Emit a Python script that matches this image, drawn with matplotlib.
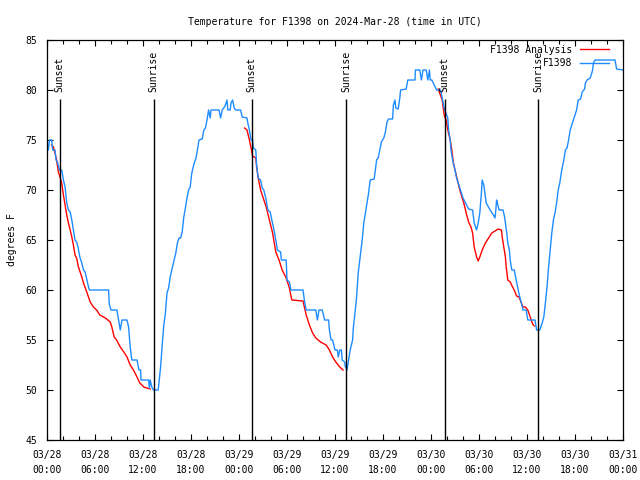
import matplotlib
matplotlib.use('Agg')
import matplotlib.pyplot as plt
import matplotlib.dates as mdates
import pandas as pd

# hours after 2024-03-28 00:00 UTC
start = pd.Timestamp('2024-03-28 00:00')

obs_hours = [0.0, 0.17, 0.3, 0.58, 0.71, 1.0, 1.13, 1.3, 1.55, 1.84, 2.05, 2.26, 2.47, 2.68, 2.9,
             3.1, 3.3, 3.5, 3.7, 3.9, 4.1, 4.35, 4.56, 4.77, 4.97, 5.19, 5.31, 7.7, 7.78, 7.99,
             8.74, 8.95, 9.16, 9.37, 10.0, 10.2, 10.4, 10.6, 11.25, 11.5, 11.7, 11.75, 12.7, 12.8,
             12.9, 13.1, 13.3, 13.9, 14.2, 14.4, 14.6, 14.8, 15.0, 15.2, 15.4, 15.6, 15.8, 16.1,
             16.3, 16.5, 16.7, 16.9, 17.1, 17.3, 17.5, 17.7, 17.9, 18.1, 18.4, 18.6, 18.8, 19.0,
             19.4, 19.6, 19.8, 20.0, 20.2, 20.4, 20.5, 21.5, 21.7, 21.9, 22.1, 22.3, 22.5, 22.6,
             22.9, 23.0, 23.2, 23.4, 23.6, 24.2, 24.4, 25.0, 25.1, 25.3, 25.5, 25.7, 25.8, 26.1,
             26.2, 26.4, 26.7, 26.9, 27.1, 27.4, 27.6, 27.9, 28.1, 28.3, 28.6, 28.8, 29.2, 29.3,
             29.9, 30.0, 30.3, 30.5, 32.0, 32.2, 32.4, 33.6, 33.8, 34.0, 34.4, 34.7, 35.2, 35.3,
             35.5, 35.7, 36.0, 36.3, 36.4, 36.6, 36.8, 36.9, 37.2, 37.3, 37.5, 37.7, 37.9, 38.2,
             38.3, 38.5, 38.7, 38.9, 39.2, 39.4, 39.6, 39.8, 40.0, 40.2, 40.4, 40.9, 41.2, 41.4,
             41.6, 41.8, 42.1, 42.3, 42.5, 42.7, 43.2, 43.3, 43.5, 43.6, 43.9, 44.1, 44.2, 44.9,
             45.1, 46.0, 46.05, 46.6, 46.8, 47.0, 47.4, 47.6, 47.8, 47.9, 48.1, 48.7, 49.2, 49.4,
             49.7, 50.1, 50.2, 50.4, 50.5, 50.7, 51.0, 51.2, 51.6, 52.0, 52.7, 53.2, 53.4, 53.7,
             53.9, 54.1, 54.3, 54.4, 54.6, 54.8, 54.9, 55.4, 55.8, 56.0, 56.1, 56.2, 56.3, 56.5,
             57.0, 57.2, 57.3, 57.5, 57.6, 57.8, 57.9, 58.1, 58.4, 58.7, 58.9, 59.1, 59.3, 59.5,
             59.9, 60.1, 61.0, 61.2, 61.6, 61.9, 62.1, 62.3, 62.5, 62.7, 62.9, 63.1, 63.3, 63.5,
             63.7, 63.9, 64.1, 64.3, 64.6, 64.8, 65.0, 65.2, 65.4, 65.8, 66.2, 66.4, 66.7, 66.9,
             67.2, 67.3, 67.5, 67.9, 68.1, 68.2, 68.3, 68.5, 71.0, 71.2, 72.0]
obs_temps = [75, 74, 75, 75, 74, 74, 73, 72.8, 72, 72, 71, 70.3, 68.7, 68, 67.8,
             67, 66, 65, 64.8, 64.2, 63.3, 62.7, 62, 61.8, 61.1, 60.3, 60, 60, 58.6, 58,
             58, 57, 56, 57, 57, 56.3, 54.3, 53, 53, 52, 52, 51, 51, 50.2,
             51, 50.3, 50, 50, 52.3, 54.5, 56.5, 57.7, 59.7, 60.2, 61.3, 62, 62.7, 63.7,
             64.7, 65.2, 65.2, 65.8, 67.3, 68.2, 69.2, 70, 70.3, 71.7, 72.7, 73.1, 74, 75,
             75.1, 76, 76.2, 77, 78, 77.2, 78, 78, 77.2, 78, 78.2, 78.5, 79, 78,
             78, 78.7, 79, 78.2, 78, 78, 77.3, 77.2, 76.7, 76, 75, 75, 74.2, 74,
             72.5, 71.2, 71, 70.2, 70, 69, 68, 67.8, 67, 66.3, 65, 64, 63.8, 63,
             63, 61, 60.8, 60, 60, 58.8, 58, 58, 57, 58, 58, 57, 57, 56,
             55, 55, 54, 54, 53.3, 54, 54, 53, 52.8, 52.3, 52, 53, 54, 55,
             56.3, 57.7, 59.3, 61.7, 63.7, 65, 66.7, 67.7, 68.7, 69.7, 71, 71.1, 73, 73.2,
             74, 74.8, 75.2, 75.8, 76.8, 77.1, 77.1, 78.5, 79, 78.2, 78.1, 79.2, 80, 80.1,
             81, 81, 82, 82, 81, 82, 82, 81, 82, 81, 81, 80, 80, 79.2,
             78, 77.2, 76, 75, 74, 73, 72, 71.2, 70.2, 69.2, 68.1, 68, 66.7, 66,
             66.7, 67.7, 69.7, 71, 70.5, 69.3, 68.7, 68, 67.5, 67.2, 68, 69, 68.7, 68,
             68, 67.3, 66.7, 65.5, 64.7, 64, 63, 62, 62, 60.8, 60, 59.3, 58.7, 58,
             58, 57, 57, 56, 56, 56.7, 57.3, 58.7, 60.3, 62.3, 64, 65.7, 67, 67.7,
             68.7, 70, 70.7, 71.8, 73, 74, 74.2, 75, 76, 77, 78, 79, 79.1, 79.8,
             80.1, 80.7, 81, 81.2, 81.7, 82, 82.7, 83, 83, 82.1, 82]

# analysis curve, one piece per night
ana_hours_1 = [0.58, 0.8, 1.0, 1.2, 1.42, 1.63, 1.84, 2.05, 2.26, 2.47, 2.68, 2.9, 3.1, 3.3, 3.5,
               3.7, 3.93, 4.14, 4.35, 4.56, 4.97, 5.4, 5.8, 6.2, 6.6, 7.3, 7.9, 8.1, 8.4, 8.7,
               9.16, 9.6, 10.0, 10.4, 10.8, 11.25, 11.6, 12.1, 12.5, 12.9]
ana_temps_1 = [74.5, 74.3, 73.7, 73, 71.8, 71.3, 70.7, 69.5, 68.5, 67.5, 66.7, 66, 65.3, 64.5, 63.5,
               63.2, 62.3, 61.8, 61.3, 60.7, 59.8, 58.8, 58.3, 58, 57.5, 57.2, 56.8, 56.3, 55.3, 55,
               54.3, 53.8, 53.3, 52.5, 52, 51.3, 50.7, 50.3, 50.2, 50.1]
ana_hours_2 = [24.7, 25.0, 25.3, 25.5, 25.7, 26.1, 26.2, 26.4, 26.7, 26.9, 27.4, 27.8, 28.2, 28.6,
               29.0, 29.4, 29.9, 30.3, 30.6, 32.0, 32.4, 32.8, 33.2, 33.6, 34.2, 34.9, 35.3, 35.7,
               36.1, 36.6, 37.0]
ana_temps_2 = [76.2, 76, 75, 74.2, 73.4, 73.2, 72.3, 71.2, 70, 69.5, 68.3, 67, 65.7, 63.8,
               63, 62, 61.2, 60.2, 59, 58.9, 57.5, 56.5, 55.7, 55.2, 54.8, 54.5, 54, 53.3,
               52.8, 52.3, 52]
ana_hours_3 = [48.9, 49.4, 49.6, 49.7, 49.9, 50.1, 50.4, 50.6, 50.8, 51.0, 51.3, 51.6, 51.9, 52.1,
               52.4, 52.7, 53.0, 53.2, 53.4, 53.7, 53.9, 54.1, 54.4, 54.8, 55.2, 55.6, 56.0, 56.4,
               56.8, 56.9, 57.1, 57.3, 57.4, 57.6, 57.9, 58.2, 58.4, 58.7, 59.0, 59.3, 59.5, 59.8,
               60.1, 60.4, 60.7, 60.9]
ana_temps_3 = [80.1, 79, 77.8, 77.3, 77, 76, 75, 74, 72.7, 72, 71, 70, 69.2, 68.7,
               67.7, 66.8, 66.3, 65.7, 64.3, 63.3, 62.9, 63.3, 64, 64.7, 65.2, 65.7, 65.9, 66.1,
               66, 65.3, 64.3, 63.3, 62.3, 61, 60.8, 60.3, 60, 59.4, 59.3, 58.7, 58.3, 58.3,
               58, 57.3, 56.6, 56.4]

sun_times = ['2024-03-28 01:36', '2024-03-28 13:21', '2024-03-29 01:36',
             '2024-03-29 13:24', '2024-03-30 01:42', '2024-03-30 13:24']
sun_labels = ['Sunset', 'Sunrise', 'Sunset', 'Sunrise', 'Sunset', 'Sunrise']


def to_time(hours):
    return start + pd.to_timedelta(hours, unit='h')


plt.rcParams['font.family'] = ['DejaVu Sans Mono']
fs = 7

fig = plt.figure(figsize=(6.4, 4.8), dpi=100)
ax = fig.add_axes([47 / 640, 40 / 480, 576 / 640, 400 / 480])

red = '#ff0000'
blue = '#1e8cff'
ax.plot(to_time(ana_hours_1), ana_temps_1, color=red, lw=1.0, label='F1398 Analysis')
ax.plot(to_time(ana_hours_2), ana_temps_2, color=red, lw=1.0)
ax.plot(to_time(ana_hours_3), ana_temps_3, color=red, lw=1.0)
ax.plot(to_time(obs_hours), obs_temps, color=blue, lw=1.0, label='F1398')

# sunrise / sunset markers
for t, lab in zip(pd.to_datetime(sun_times), sun_labels):
    ax.vlines(t, 45, 79.1, color='black', lw=1.0)
    ax.text(t, 79.8, lab, rotation=90, ha='center', va='bottom', fontsize=fs)

ax.set_xlim(start, start + pd.Timedelta(hours=72))
ax.set_ylim(45, 85)
ax.set_yticks(range(45, 86, 5))
ax.xaxis.set_major_locator(mdates.HourLocator(byhour=[0, 6, 12, 18]))
ax.xaxis.set_minor_locator(mdates.HourLocator(interval=2))
ax.xaxis.set_major_formatter(mdates.DateFormatter('%m/%d\n%H:%M'))

ax.tick_params(which='both', direction='in', top=True, right=True, width=0.8, labelsize=fs)
ax.tick_params(which='major', length=4)
ax.tick_params(which='minor', length=3)
ax.tick_params(axis='x', pad=7)
ax.tick_params(axis='y', pad=7)
for lab in ax.get_xticklabels():
    lab.set_linespacing(1.7)
for s in ax.spines.values():
    s.set_linewidth(0.9)

ax.set_title('Temperature for F1398 on 2024-Mar-28 (time in UTC)', fontsize=fs, pad=11)
ax.set_ylabel('degrees F', fontsize=fs, labelpad=6)

ax.legend(loc='upper right', bbox_to_anchor=(1 - 9 / 576, 1), frameon=False,
          markerfirst=False, fontsize=fs, handlelength=3.0, handletextpad=0.8,
          labelspacing=0.35, borderaxespad=0.2, borderpad=0.3)

plt.savefig('out.png', dpi=100)
